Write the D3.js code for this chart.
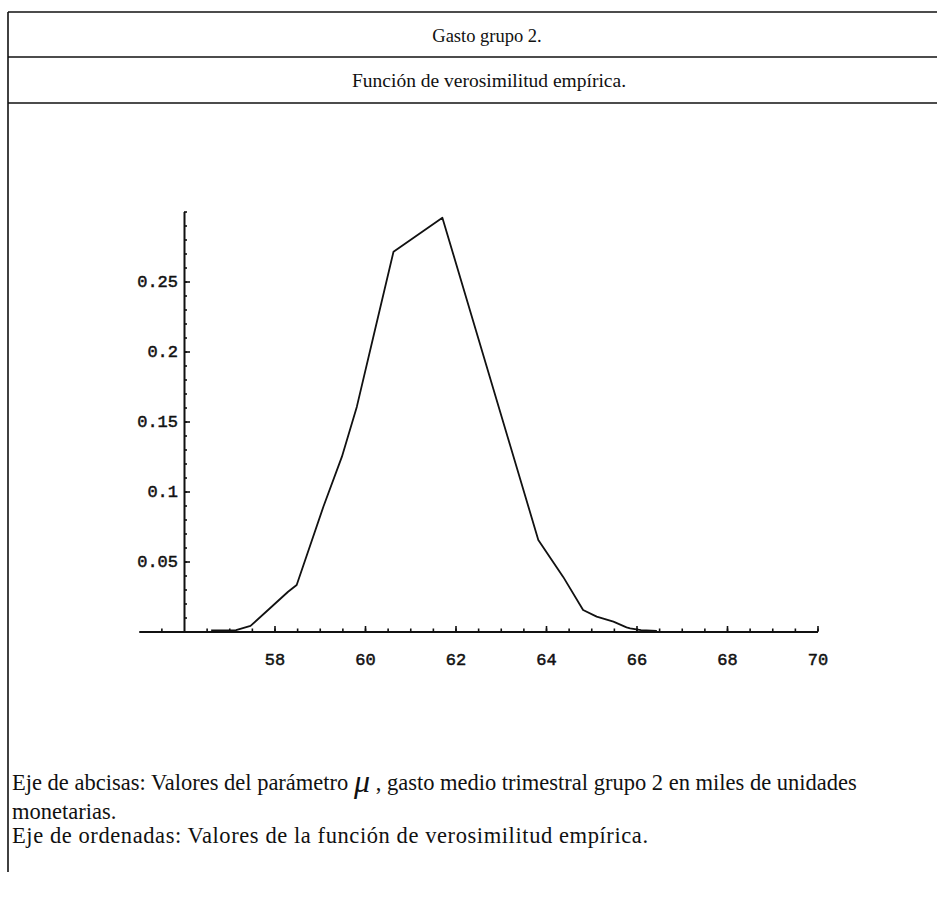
<!DOCTYPE html>
<html>
<head>
<meta charset="utf-8">
<script src="https://cdn.jsdelivr.net/npm/d3@7"></script>
<style>
  html, body { margin: 0; padding: 0; background: #fff; }
  svg { display: block; }
</style>
</head>
<body>
<svg id="chart" width="937" height="897"></svg>
<script>
// Empirical likelihood of the group-2 mean quarterly spending (mu)
const muValues = [56.6, 57.15, 57.47, 57.9, 58.3, 58.49, 59.08, 59.49, 59.82, 60.22, 60.63, 61.71, 63.83, 64.38, 64.82, 65.12, 65.49, 65.78, 65.86, 66.1, 66.45];
const likelihood = [0.0008, 0.001, 0.004, 0.0166, 0.0284, 0.0332, 0.0891, 0.1249, 0.1606, 0.2154, 0.2713, 0.2956, 0.0654, 0.039, 0.0154, 0.0106, 0.007, 0.003, 0.0023, 0.001, 0.0005];

const xMajorTicks = [58, 60, 62, 64, 66, 68, 70];
const yMajorTicks = [0.05, 0.1, 0.15, 0.2, 0.25];

const headerTitle = "Gasto grupo 2.";
const headerSubtitle = "Función de verosimilitud empírica.";
const noteX1 = "Eje de abcisas: Valores del parámetro ";
const noteMu = "\u03BC";
const noteX2 = " , gasto medio trimestral grupo 2 en miles de unidades";
const noteX3 = "monetarias.";
const noteY = "Eje de ordenadas: Valores de la función de verosimilitud empírica.";

const svg = d3.select("#chart");
const W = 937;

svg.append("rect").attr("width", W).attr("height", 897).attr("fill", "#fff");

// Table frame around the figure
const frame = svg.append("g").attr("stroke", "#111").attr("stroke-width", 1.6).attr("fill", "none");
frame.append("line").attr("x1", 8).attr("x2", W).attr("y1", 12).attr("y2", 12);
frame.append("line").attr("x1", 8).attr("x2", W).attr("y1", 57).attr("y2", 57);
frame.append("line").attr("x1", 8).attr("x2", W).attr("y1", 103).attr("y2", 103);
frame.append("line").attr("x1", 8).attr("x2", 8).attr("y1", 12).attr("y2", 872);

const serif = "'Liberation Serif', 'Times New Roman', serif";
svg.append("text").attr("x", 487).attr("y", 42).attr("text-anchor", "middle")
  .attr("font-family", serif).attr("font-size", 18.5).attr("fill", "#111").text(headerTitle);
svg.append("text").attr("x", 489).attr("y", 87).attr("text-anchor", "middle")
  .attr("font-family", serif).attr("font-size", 19.5).attr("fill", "#111").text(headerSubtitle);

// Scales
const x = d3.scaleLinear().domain([55, 70]).range([138.75, 817.5]);
const y = d3.scaleLinear().domain([0, 0.3]).range([631.5, 211.5]);

const mono = "'Liberation Mono', 'Courier New', monospace";
const fmt = d => String(+d.toFixed(2));

const xMinor = d3.range(55.5, 70.01, 0.5).filter(v => Math.abs(v - 56) > 1e-6);
const yMinor = d3.range(0.01, 0.301, 0.01);

// Horizontal axis with inward ticks
const gx = svg.append("g").attr("transform", `translate(0,${y(0)})`);
gx.call(d3.axisBottom(x).tickValues(xMinor).tickSizeInner(-3).tickSizeOuter(0).tickFormat(""));
gx.append("g").call(d3.axisBottom(x).tickValues(xMajorTicks).tickSizeInner(-5.5).tickSizeOuter(0).tickPadding(21).tickFormat(d3.format("d")))
  .select(".domain").remove();

// Vertical axis at mu = 56
const gy = svg.append("g").attr("transform", `translate(${x(56)},0)`);
gy.call(d3.axisLeft(y).tickValues(yMinor).tickSizeInner(-3).tickSizeOuter(0).tickFormat(""));
gy.append("g").call(d3.axisLeft(y).tickValues(yMajorTicks).tickSizeInner(-6).tickSizeOuter(0).tickPadding(6).tickFormat(fmt))
  .select(".domain").remove();

svg.selectAll(".domain").attr("stroke", "#111").attr("stroke-width", 2);
svg.selectAll(".tick line").attr("stroke", "#111").attr("stroke-width", 1.6);
svg.selectAll(".tick text").attr("font-family", mono).attr("font-size", 17)
  .attr("fill", "#111").attr("stroke", "#111").attr("stroke-width", 0.5);

// Likelihood curve
const pts = muValues.map((m, i) => [m, likelihood[i]]);
svg.append("path")
  .datum(pts)
  .attr("fill", "none")
  .attr("stroke", "#111")
  .attr("stroke-width", 1.8)
  .attr("stroke-linejoin", "round")
  .attr("d", d3.line().x(d => x(d[0])).y(d => y(d[1])));

// Notes below the figure
const notes = svg.append("g").attr("font-family", serif).attr("font-size", 22.5).attr("fill", "#111");
const t1 = notes.append("text").attr("x", 12).attr("y", 790);
t1.append("tspan").text(noteX1);
t1.append("tspan").attr("font-style", "italic").attr("font-size", 32).attr("dy", 2).text(noteMu);
t1.append("tspan").attr("dy", -2).text(noteX2);
notes.append("text").attr("x", 12).attr("y", 819).text(noteX3);
notes.append("text").attr("x", 12).attr("y", 843)
  .attr("textLength", 636).attr("lengthAdjust", "spacing").text(noteY);
</script>
</body>
</html>
